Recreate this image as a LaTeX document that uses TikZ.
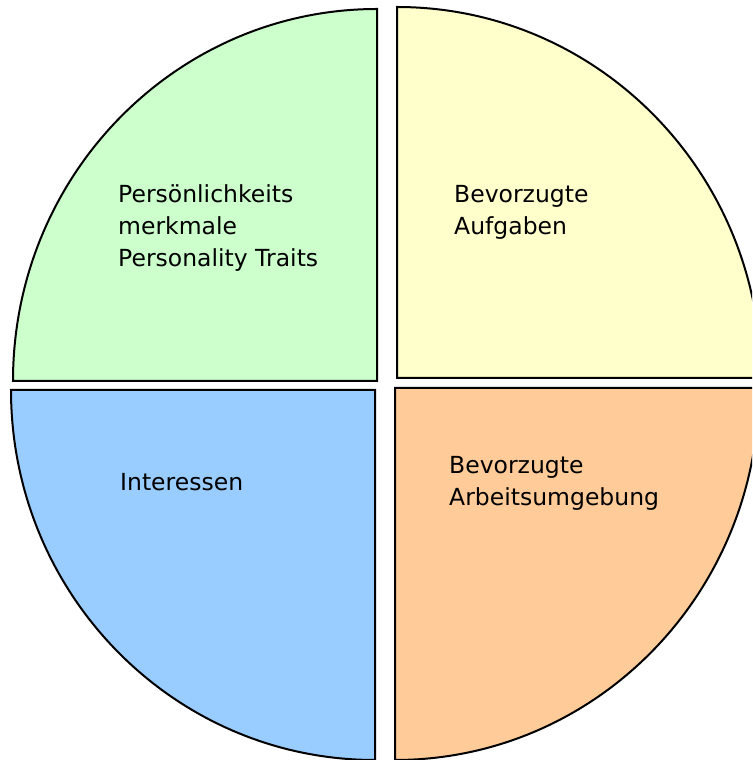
\documentclass[tikz,border=0pt]{standalone}
\usepackage{fontspec}
\setmainfont{DejaVu Sans}
\usepackage{tikz}
\usetikzlibrary{positioning}
\definecolor{sliceGreen}{RGB}{204,255,204}
\definecolor{sliceYellow}{RGB}{255,255,204}
\definecolor{sliceBlue}{RGB}{153,204,255}
\definecolor{sliceOrange}{RGB}{255,204,153}
\tikzset{
  slice/.style={draw=black,line width=2pt,line join=miter,fill=#1},
  sliceText/.style={anchor=base west,align=left,inner sep=0pt,
                    font=\fontsize{23.5}{32}\selectfont},
}

\begin{document}
\begin{tikzpicture}[x=1pt,y=1pt]
  \useasboundingbox (0,0) rectangle (752,760);
  \clip (0,0) rectangle (752,760);
  % quarter slices
  \draw[slice=sliceGreen] (377,379) -- ++(-364,0)
    arc[start angle=180,end angle=90,x radius=364,y radius=372] -- cycle;
  \draw[slice=sliceYellow] (397,382) -- ++(0,371)
    arc[start angle=90,end angle=0,x radius=364,y radius=371] -- cycle;
  \draw[slice=sliceBlue] (375,370) -- ++(-364,0)
    arc[start angle=180,end angle=270,x radius=364,y radius=370] -- cycle;
  \draw[slice=sliceOrange] (395,372) -- ++(364,0)
    arc[start angle=0,end angle=-90,x radius=364,y radius=372] -- cycle;
  % labels (base = last line)
  \node[sliceText](traits) at (118,493){Persönlichkeits\\merkmale\\Personality Traits};
  \node[sliceText](tasks) at (454,525){Bevorzugte\\Aufgaben};
  \node[sliceText](interests) at (120,269){Interessen};
  \node[sliceText](workplace) at (449,254){Bevorzugte\\Arbeitsumgebung};
\end{tikzpicture}
\end{document}
